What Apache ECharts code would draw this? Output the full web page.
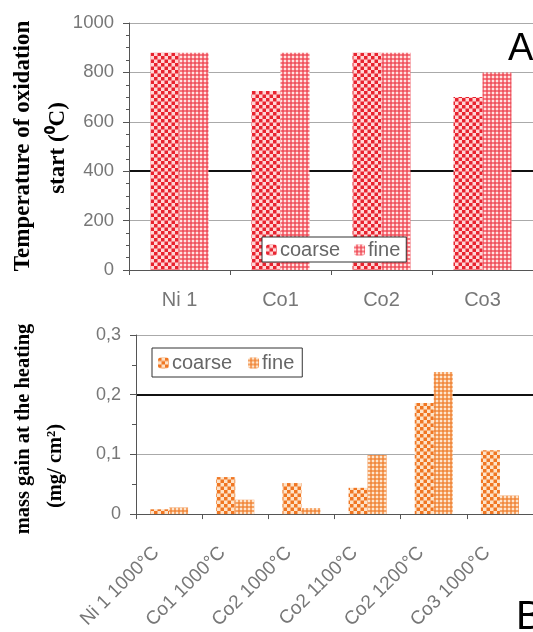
<!DOCTYPE html>
<html>
<head>
<meta charset="utf-8">
<script src="https://cdn.jsdelivr.net/npm/echarts@6/dist/echarts.min.js"></script>
<style>
  html, body { margin: 0; padding: 0; background: #fff; }
  #chart { width: 533px; height: 632px; }
</style>
</head>
<body>
<div id="chart"></div>
<script>
// Panel A: temperature of oxidation start
const tempCategories = ['Ni 1', 'Co1', 'Co2', 'Co3'];
const tempCoarse = [880, 725, 880, 700];
const tempFine = [880, 880, 880, 800];
const tempTicks = [0, 200, 400, 600, 800, 1000];

// Panel B: mass gain at the heating
const massCategories = ['Ni 1 1000°C', 'Co1 1000°C', 'Co2 1000°C', 'Co2 1100°C', 'Co2 1200°C', 'Co3 1000°C'];
const massCoarse = [0.008, 0.062, 0.052, 0.044, 0.186, 0.107];
const massFine = [0.011, 0.024, 0.010, 0.099, 0.238, 0.031];
const massTicks = [0, 0.1, 0.2, 0.3];

const seriesNames = ['coarse', 'fine'];

// Checkered fills for the bars
function checker(period, bg, fg) {
  const c = document.createElement('canvas');
  c.width = period; c.height = period;
  const g = c.getContext('2d');
  const h = period / 2;
  g.fillStyle = bg; g.fillRect(0, 0, period, period);
  g.fillStyle = fg;
  g.fillRect(0, 0, h, h);
  g.fillRect(h, h, h, h);
  return { image: c, repeat: 'repeat' };
}
function dotted(period, bg, dot, dark) {
  const c = document.createElement('canvas');
  c.width = period; c.height = period;
  const g = c.getContext('2d');
  const h = period / 2;
  g.fillStyle = bg; g.fillRect(0, 0, period, period);
  g.fillStyle = dot; g.fillRect(0, 0, h, h);
  g.fillStyle = dark; g.fillRect(h, h, h, h);
  return { image: c, repeat: 'repeat' };
}

const redCoarse = checker(7, '#ffd6d6', '#e8232f');
const redFine = dotted(4, '#f6787f', '#ffe2e2', '#ee5360');
const orangeCoarse = checker(7, '#fde3c8', '#f07622');
const orangeFine = dotted(4, '#f5a264', '#fde6cf', '#f08a40');

const axisGrey = '#777';
const labelFont = 'Liberation Sans, Arial, sans-serif';
const titleFont = 'Liberation Serif, Times New Roman, serif';

const chart = echarts.init(document.getElementById('chart'), null, { renderer: 'canvas' });

function yTitle(text, x, y, size) {
  return {
    type: 'text', x: x, y: y, rotation: Math.PI / 2,
    style: {
      text: text, fill: '#000', font: 'bold ' + size + 'px ' + titleFont,
      textAlign: 'center', textVerticalAlign: 'middle'
    }
  };
}

function legendBox(prefix, left, top, padding, gap) {
  return {
    data: seriesNames.map(n => ({ name: prefix + n })),
    formatter: n => n.slice(prefix.length),
    left: left, top: top, padding: padding, itemGap: gap,
    itemWidth: 11, itemHeight: 11,
    backgroundColor: '#fff', borderColor: '#333', borderWidth: 1, borderRadius: 0,
    textStyle: { color: '#666', fontSize: 20, fontFamily: labelFont, padding: [0, 0, 0, -2] }
  };
}

chart.setOption({
  backgroundColor: '#fff',
  animation: false,
  grid: [
    { left: 129, top: 23, width: 412, height: 247, containLabel: false },
    { left: 136, top: 335, width: 402, height: 182.3, containLabel: false }
  ],
  legend: [
    legendBox('A-', 262, 237, [3, 6, 2, 4], 14),
    legendBox('B-', 152, 348, [5, 8, 4, 6], 16)
  ],
  xAxis: [
    {
      type: 'category', gridIndex: 0, data: tempCategories,
      axisLine: { lineStyle: { color: '#555', width: 1 } },
      axisTick: { show: true, length: 5, lineStyle: { color: '#555' } },
      axisLabel: { color: axisGrey, fontSize: 20, fontFamily: labelFont, margin: 20 }
    },
    {
      type: 'category', gridIndex: 1, data: massCategories,
      axisLine: { lineStyle: { color: '#555', width: 1 } },
      axisTick: { show: true, length: 5, lineStyle: { color: '#555' } },
      axisLabel: { color: axisGrey, fontSize: 19, fontFamily: labelFont, rotate: 45, margin: 23,
        interval: 0, padding: [0, 18, 0, 0] }
    }
  ],
  yAxis: [
    {
      type: 'value', gridIndex: 0, min: tempTicks[0], max: tempTicks[tempTicks.length - 1], interval: 200,
      axisLine: { show: true, lineStyle: { color: '#555' } },
      axisTick: { show: true, length: 6, lineStyle: { color: '#555' } },
      minorTick: { show: true, splitNumber: 4, length: 3, lineStyle: { color: '#555' } },
      axisLabel: { color: axisGrey, fontSize: 18.5, fontFamily: labelFont, margin: 15, formatter: v => String(v) },
      splitLine: { show: true, lineStyle: { color: ['#aaa', '#aaa', 'transparent', '#aaa', '#aaa', '#aaa'], width: 1 } }
    },
    {
      type: 'value', gridIndex: 0, min: tempTicks[0], max: tempTicks[tempTicks.length - 1], interval: 200,
      axisLine: { show: false }, axisTick: { show: false }, axisLabel: { show: false },
      splitLine: { show: true, lineStyle: { color: ['transparent', 'transparent', '#111', 'transparent', 'transparent', 'transparent'], width: 2 } }
    },
    {
      type: 'value', gridIndex: 1, min: massTicks[0], max: massTicks[massTicks.length - 1], interval: 0.1,
      axisLine: { show: true, lineStyle: { color: '#555' } },
      axisTick: { show: true, length: 6, lineStyle: { color: '#555' } },
      minorTick: { show: true, splitNumber: 2, length: 4, lineStyle: { color: '#555' } },
      axisLabel: { color: axisGrey, fontSize: 18, fontFamily: labelFont, margin: 15,
        formatter: v => (Math.round(v * 10) / 10).toString().replace('.', ',') },
      splitLine: { show: true, lineStyle: { color: ['#aaa', '#aaa', 'transparent', '#aaa'], width: 1 } }
    },
    {
      type: 'value', gridIndex: 1, min: massTicks[0], max: massTicks[massTicks.length - 1], interval: 0.1,
      axisLine: { show: false }, axisTick: { show: false }, axisLabel: { show: false },
      splitLine: { show: true, lineStyle: { color: ['transparent', 'transparent', '#111', 'transparent'], width: 2 } }
    }
  ],
  series: [
    {
      name: 'A-' + seriesNames[0], type: 'bar', xAxisIndex: 0, yAxisIndex: 0,
      data: tempCoarse, barWidth: 29, barGap: '0%', itemStyle: { color: redCoarse }
    },
    {
      name: 'A-' + seriesNames[1], type: 'bar', xAxisIndex: 0, yAxisIndex: 0,
      data: tempFine, barWidth: 29, barGap: '0%', itemStyle: { color: redFine }
    },
    {
      name: 'B-' + seriesNames[0], type: 'bar', xAxisIndex: 1, yAxisIndex: 2,
      data: massCoarse, barWidth: 19, barGap: '0%', itemStyle: { color: orangeCoarse }
    },
    {
      name: 'B-' + seriesNames[1], type: 'bar', xAxisIndex: 1, yAxisIndex: 2,
      data: massFine, barWidth: 19, barGap: '0%', itemStyle: { color: orangeFine }
    }
  ],
  graphic: [
    yTitle('Temperature of oxidation', 23.5, 146, 23),
    yTitle('start (\u2070C)', 58, 148, 23),
    yTitle('mass gain at the heating', 23.5, 429, 20.5),
    yTitle('(mg/ cm\u00b2)', 56, 466, 20.5),
    { type: 'text', x: 508, y: 31, style: { text: 'A', fill: '#000', font: '38px ' + labelFont } },
    { type: 'text', x: 516, y: 598, style: { text: 'B', fill: '#000', font: '40px ' + labelFont } }
  ]
});
</script>
</body>
</html>
